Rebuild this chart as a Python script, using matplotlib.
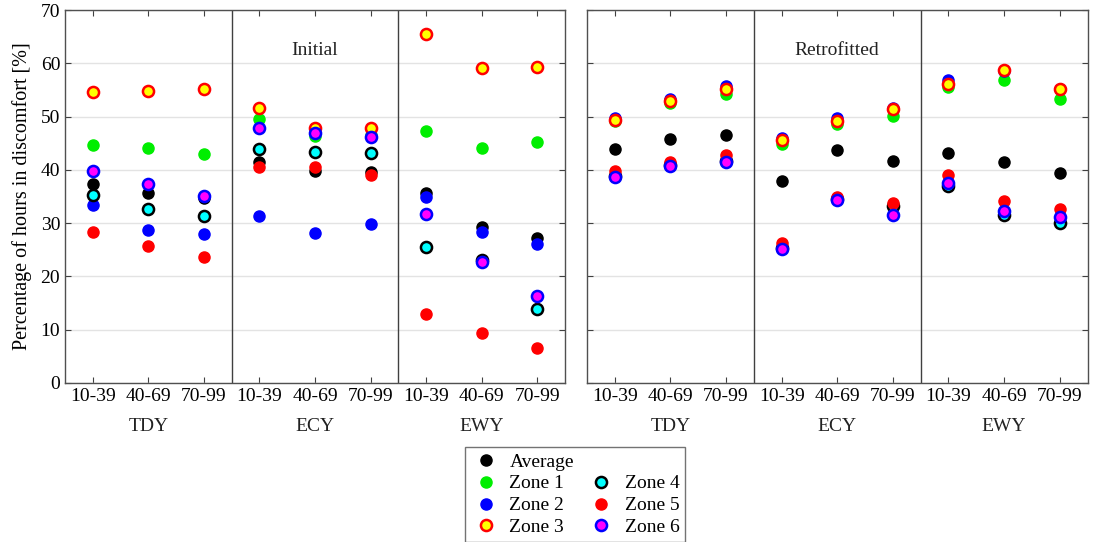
import numpy as np
import matplotlib.pyplot as plt

plt.rcParams['font.family'] = ['Liberation Serif', 'DejaVu Serif']

# categories
age_bands = ['10-39', '40-69', '70-99']
climates = ['TDY', 'ECY', 'EWY']
panel_titles = ['Initial', 'Retrofitted']
series_names = ['Average', 'Zone 1', 'Zone 2', 'Zone 3', 'Zone 4', 'Zone 5', 'Zone 6']

# values, order TDY(3) ECY(3) EWY(3)
initial_avg = [37.3, 35.6, 34.7, 41.4, 39.7, 39.6, 35.7, 29.2, 27.2]
initial_z1 = [44.6, 44.1, 42.9, 49.6, 46.3, 46.5, 47.3, 44.2, 45.3]
initial_z2 = [33.5, 28.8, 27.9, 31.4, 28.1, 29.9, 35.0, 28.4, 26.0]
initial_z3 = [54.7, 54.9, 55.1, 51.7, 47.9, 47.8, 65.6, 59.1, 59.3]
initial_z4 = [35.3, 32.6, 31.4, 43.9, 43.4, 43.1, 25.6, 23.0, 13.9]
initial_z5 = [28.4, 25.7, 23.6, 40.6, 40.6, 39.1, 12.9, 9.3, 6.5]
initial_z6 = [39.8, 37.4, 35.1, 47.8, 47.0, 46.1, 31.7, 22.8, 16.4]

retro_avg = [43.9, 45.8, 46.5, 37.9, 43.8, 41.6, 43.1, 41.4, 39.4]
retro_z1 = [49.1, 52.6, 54.3, 44.9, 48.6, 50.2, 55.5, 56.9, 53.4]
retro_z2 = [49.8, 53.4, 55.7, 45.9, 49.8, 51.7, 56.9, 58.6, 55.2]
retro_z3 = [49.4, 53.0, 55.1, 45.6, 49.2, 51.4, 56.2, 58.8, 55.1]
retro_z4 = [38.9, 40.9, 41.7, 25.3, 34.5, 33.2, 36.9, 31.6, 30.0]
retro_z5 = [39.7, 41.4, 42.8, 26.3, 34.9, 33.8, 39.1, 34.1, 32.6]
retro_z6 = [38.7, 40.7, 41.5, 25.1, 34.3, 31.6, 37.6, 32.3, 31.2]

initial = [initial_avg, initial_z1, initial_z2, initial_z3, initial_z4, initial_z5, initial_z6]
retro = [retro_avg, retro_z1, retro_z2, retro_z3, retro_z4, retro_z5, retro_z6]

# (face, edge, edge width)
styles = [('black', 'black', 1.0),
          ('#00ee00', '#00ee00', 1.0),
          ('blue', 'blue', 1.0),
          ('yellow', 'red', 1.8),
          ('cyan', 'black', 1.8),
          ('red', 'red', 1.0),
          ('magenta', 'blue', 1.8)]

fig = plt.figure(figsize=(10.93, 5.42), dpi=100)
ax1 = fig.add_axes([0.0595, 0.2934, 0.4575, 0.688])
ax2 = fig.add_axes([0.537, 0.2934, 0.458, 0.688])

x = np.arange(1, 10)
handles = []
for ax, data, title in [(ax1, initial, panel_titles[0]), (ax2, retro, panel_titles[1])]:
    for name, vals, (fc, ec, ew) in zip(series_names, data, styles):
        h, = ax.plot(x, vals, linestyle='none', marker='o', markersize=8,
                     markerfacecolor=fc, markeredgecolor=ec, markeredgewidth=ew,
                     label=name, zorder=3)
        if ax is ax1:
            handles.append(h)
    ax.set_xlim(0.5, 9.5)
    ax.set_ylim(0, 70)
    ax.set_yticks(np.arange(0, 71, 10))
    ax.yaxis.grid(True, color='#e3e3e3', linewidth=1)
    ax.set_axisbelow(True)
    ax.set_xticks(x)
    ax.set_xticklabels(age_bands * 3, fontsize=14)
    ax.tick_params(direction='in', length=4, top=True, right=True,
                   color='#404040', labelsize=14)
    for sp in ax.spines.values():
        sp.set_color('#505050')
        sp.set_linewidth(1)
    for xv in [3.5, 6.5]:
        ax.axvline(xv, color='#404040', linewidth=1)
    for i, c in enumerate(climates):
        ax.text(2 + 3 * i, -0.118, c, transform=ax.get_xaxis_transform(),
                ha='center', va='center', fontsize=14, color='#222222')
    ax.text(5, 62.5, title, ha='center', va='center', fontsize=14, color='#222222')

ax2.set_yticklabels([])
ax1.set_ylabel('Percentage of hours in discomfort [%]', fontsize=14.5, labelpad=6)

# blank slot so the second column starts on row two
blank, = ax1.plot([], [], linestyle='none', marker='none', label=' ')
leg_handles = handles[:4] + [blank] + handles[4:]
leg_labels = series_names[:4] + [''] + series_names[4:]
leg = fig.legend(leg_handles, leg_labels, ncol=2, loc='upper center',
                 bbox_to_anchor=(0.526, 0.175), borderaxespad=0, fontsize=14,
                 frameon=True, fancybox=False, edgecolor='#505050', borderpad=0.3,
                 labelspacing=0.22, handletextpad=0.4, columnspacing=0.6,
                 handlelength=1.6)
leg.get_frame().set_linewidth(1)

fig.savefig('out.png', dpi=100)
